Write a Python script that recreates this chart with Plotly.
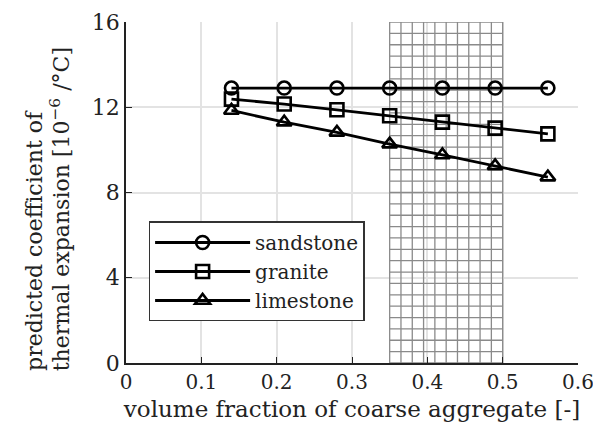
import plotly.graph_objects as go

x_vals = [0.14, 0.21, 0.28, 0.35, 0.42, 0.49, 0.56]
sandstone = [12.9, 12.9, 12.9, 12.9, 12.9, 12.9, 12.9]
granite = [12.38, 12.15, 11.88, 11.6, 11.3, 11.02, 10.75]
limestone = [11.85, 11.3, 10.82, 10.27, 9.76, 9.25, 8.72]
x_ticks = [0, 0.1, 0.2, 0.3, 0.4, 0.5, 0.6]
y_ticks = [0, 4, 8, 12, 16]
hatch_range = [0.35, 0.5]
y_max = 16
hatch_nx, hatch_ny = 10, 30

FONT = "DejaVu Serif"
INK = "#222"
fig = go.Figure()

series = [("sandstone", sandstone, "circle-open"),
          ("granite", granite, "square-open"),
          ("limestone", limestone, "triangle-up-open")]
for name, ys, sym in series:
    fig.add_trace(go.Scatter(
        x=x_vals, y=ys, name=name, mode="lines+markers",
        line=dict(color="black", width=2.8),
        marker=dict(symbol=sym, size=13, color="black", line=dict(width=2.6, color="black"))))

# hatched (grid) region
hs = dict(type="line", layer="between", line=dict(color="#8a8a8a", width=1.3))
dx = (hatch_range[1] - hatch_range[0]) / hatch_nx
for i in range(hatch_nx + 1):
    xv = hatch_range[0] + i * dx
    fig.add_shape(x0=xv, x1=xv, y0=0, y1=y_max, xref="x", yref="y", **hs)
for j in range(hatch_ny + 1):
    yv = j * y_max / hatch_ny
    fig.add_shape(x0=hatch_range[0], x1=hatch_range[1], y0=yv, y1=yv, xref="x", yref="y", **hs)

fig.add_annotation(text="predicted coefficient of", textangle=-90,
                   xref="paper", yref="paper", x=-0.201, y=-0.03,
                   xanchor="center", yanchor="bottom", showarrow=False,
                   font=dict(family=FONT, size=22, color=INK))
fig.add_annotation(text="thermal expansion [10<sup>−6</sup> /°C]", textangle=-90,
                   xref="paper", yref="paper", x=-0.146, y=-0.03,
                   xanchor="center", yanchor="bottom", showarrow=False,
                   font=dict(family=FONT, size=22, color=INK))

fig.update_layout(
    width=593, height=438,
    margin=dict(l=126, r=15, t=22, b=75),
    paper_bgcolor="white", plot_bgcolor="white",
    font=dict(family=FONT, size=22, color=INK),
    showlegend=True,
    legend=dict(x=0.05, y=0.415, xanchor="left", yanchor="top",
                bordercolor="#333", borderwidth=1.5, bgcolor="white",
                itemwidth=95, tracegroupgap=0, font=dict(family=FONT, size=20, color=INK)),
    xaxis=dict(range=[0, 0.6], tickvals=x_ticks, ticktext=[str(v) if v else "0" for v in x_ticks],
               showgrid=True, gridcolor="#e3e3e3", gridwidth=1.5,
               showline=True, linecolor="#222", linewidth=1.5, automargin=False,
               ticks="inside", ticklen=6, tickcolor="#222", zeroline=False,
               ticklabeloverflow="allow",
               tickfont=dict(family=FONT, size=20, color=INK),
               title=dict(text="volume fraction of coarse aggregate [-]", standoff=8,
                          font=dict(family=FONT, size=23, color=INK))),
    yaxis=dict(range=[0, y_max], tickvals=y_ticks, automargin=False,
               showgrid=True, gridcolor="#e3e3e3", gridwidth=1.5,
               showline=True, linecolor="#222", linewidth=1.5,
               ticks="inside", ticklen=6, tickcolor="#222", zeroline=False,
               tickfont=dict(family=FONT, size=22, color=INK)),
)

fig.write_html("out.html")
